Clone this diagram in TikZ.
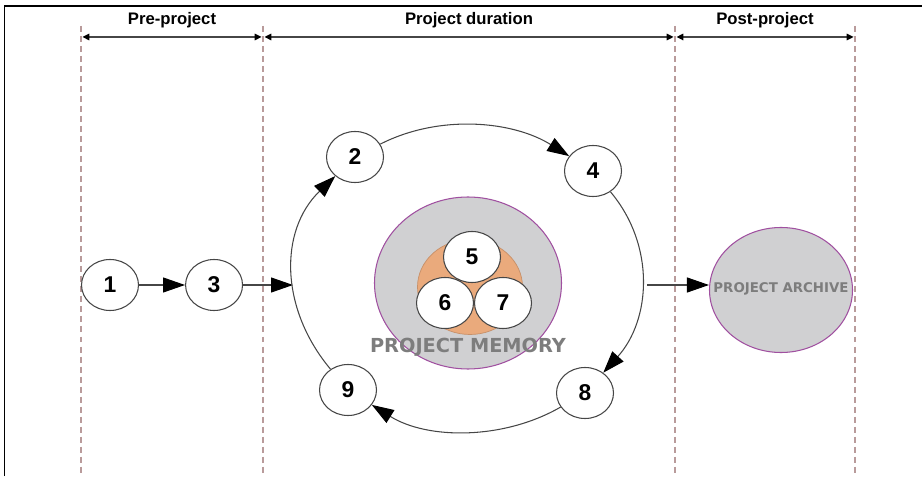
\documentclass[tikz,border=0pt]{standalone}
\usepackage{fontspec}
\setmainfont{Liberation Sans}
\newfontfamily\logofont{DejaVu Sans}
\usetikzlibrary{shapes.geometric, arrows.meta, positioning}
\definecolor{memgray}{RGB}{208,208,210}
\definecolor{rimpurple}{RGB}{160,80,160}
\definecolor{peach}{RGB}{234,170,124}
\definecolor{logogray}{RGB}{125,125,125}
\definecolor{guidepink}{RGB}{185,155,155}
\definecolor{linegray}{RGB}{70,70,70}

\begin{document}
\begin{tikzpicture}[
    node distance=0.92cm,
    numnode/.style={ellipse, draw=linegray, fill=white, line width=0.6pt, minimum width=1.14cm, minimum height=1.02cm, inner sep=0pt, font=\fontsize{13}{13}\selectfont\bfseries},
    flow/.style={draw=linegray, line width=0.6pt, -{Triangle[length=0.44cm, width=0.3cm, color=black]}},
    guide/.style={draw=guidepink, line width=0.6pt, dash pattern=on 3.4pt off 2.3pt},
    span/.style={draw=linegray, line width=0.8pt, {Triangle[length=0.14cm, width=0.13cm, color=black]}-{Triangle[length=0.14cm, width=0.13cm, color=black]}},
    spanlabel/.style={above=1.2pt, font=\fontsize{9.5}{11}\selectfont\bfseries},
    pool/.style={ellipse, draw=rimpurple, fill=memgray, line width=0.6pt, inner sep=0pt},
    logo/.style={text=logogray, font=\logofont\fontsize{11}{11}\selectfont\bfseries}
]
    \useasboundingbox (0,0) rectangle (18.44,9.52);
    \draw[line width=1.1pt] (0.09,0) -- (0.09,9.4) -- (18.5,9.4);

    % phase borders
    \foreach \gx [count=\gi] in {1.62,5.26,13.5,17.1} {
        \coordinate (g\gi) at (\gx,9.0);
        \coordinate (s\gi) at (\gx,8.78);
        \draw[guide] (g\gi) -- (g\gi |- 0,0);
    }
    \path[span] ([xshift=0.8pt]s1) -- node[spanlabel] {Pre-project} ([xshift=-0.8pt]s2);
    \path[span] ([xshift=0.8pt]s2) -- node[spanlabel] {Project duration} ([xshift=-0.8pt]s3);
    \path[span] ([xshift=0.8pt]s3) -- node[spanlabel] {Post-project} ([xshift=-0.8pt]s4);

    % project memory
    \node[pool, minimum width=3.74cm, minimum height=3.44cm] (memory) at (9.36,3.86) {};
    \node[ellipse, draw=peach!85!black, fill=peach, line width=0.4pt, minimum width=2.1cm, minimum height=1.9cm] (core) at (9.4,3.78) {};
    \node[numnode] (five) at (9.44,4.38) {5};
    \node[numnode] (six) at (8.9,3.46) {6};
    \node[numnode] (seven) at (10.06,3.46) {7};
    \node[logo] (memlabel) at (9.36,2.58) {PROJECT MEMORY};

    % project archive
    \node[pool, minimum width=2.86cm, minimum height=2.5cm] (archive) at (15.62,3.72) {};
    \node[logo, font=\logofont\fontsize{7.6}{8}\selectfont\bfseries] (archlabel) at (15.62,3.74) {PROJECT ARCHIVE};

    \node[numnode] (one) at (2.2,3.82) {1};
    \node[numnode, right=of one] (three) {3};
    \node[numnode] (two) at (7.1,6.38) {2};
    \node[numnode] (four) at (11.86,6.1) {4};
    \node[numnode] (eight) at (11.7,1.66) {8};
    \node[numnode] (nine) at (6.96,1.72) {9};
    \coordinate (cycleW) at (5.86,3.82);
    \coordinate (cycleE) at (12.94,3.82);

    \path[flow] (one) -- (three);
    \path[flow] (three) -- (cycleW);
    % the cycle
    \path[flow] (nine) to[out=130, in=-136, looseness=1.04] (two);
    \path[flow] (two) to[out=27, in=148, looseness=0.9] (four);
    \path[flow] (four) to[out=-50, in=48, looseness=1.0] (eight);
    \path[flow] (eight) to[out=-150, in=-32, looseness=0.89] (nine);
    \path[flow] (cycleE) -- (cycleE -| archive.west);
\end{tikzpicture}
\end{document}
